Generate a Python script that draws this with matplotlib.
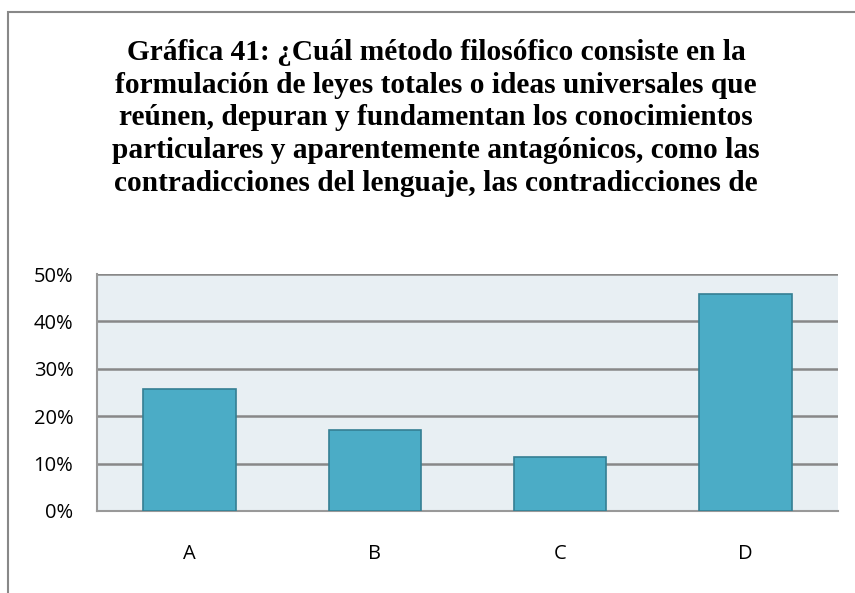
import numpy as np
from matplotlib import pyplot as plt
from matplotlib.patches import Rectangle

# data
categories = ['A', 'B', 'C', 'D']
values = [25.7, 17.1, 11.4, 45.7]
title = ('Gráfica 41: ¿Cuál método filosófico consiste en la\n'
         'formulación de leyes totales o ideas universales que\n'
         'reúnen, depuran y fundamentan los conocimientos\n'
         'particulares y aparentemente antagónicos, como las\n'
         'contradicciones del lenguaje, las contradicciones de')

fig = plt.figure(figsize=(8.55, 5.93), dpi=100)

# outer frame of the chart object
fig.patches.append(Rectangle((8/855, -0.05), 1.0, 1 - 12/593 + 0.05,
                             transform=fig.transFigure, fill=False,
                             edgecolor='#888888', linewidth=1.5))

fig.text(0.51, 1 - 39/593, title, ha='center', va='top',
         family='Liberation Serif', fontweight='bold', fontsize=21.2,
         linespacing=1.27)

ax = fig.add_axes([97/855, 1 - 511/593, 741/855, 237/593])
ax.set_facecolor('#E8EFF3')
x = np.arange(len(categories))
ax.bar(x, values, width=0.5, color='#4BACC6', edgecolor='#357F93',
       linewidth=1.2, zorder=3)

ax.set_xlim(-0.5, 3.5)
ax.set_ylim(0, 50)
ax.set_yticks(np.arange(0, 51, 10))
ax.set_yticklabels([f'{v}%' for v in range(0, 51, 10)])
ax.set_xticks(x)
ax.set_xticklabels(categories)
ax.yaxis.grid(True, color='#888888', linewidth=1.8, zorder=1)
ax.tick_params(length=0, labelsize=14.5)
ax.tick_params(axis='y', pad=17)
ax.tick_params(axis='x', pad=24)
for lab in ax.get_xticklabels() + ax.get_yticklabels():
    lab.set_family('Open Sans')
for side in ['top', 'right']:
    ax.spines[side].set_visible(False)
ax.spines['left'].set_color('#999999')
ax.spines['bottom'].set_color('#999999')
ax.spines['left'].set_linewidth(1.5)
ax.spines['bottom'].set_linewidth(1.5)

plt.savefig('out.png', dpi=100)
